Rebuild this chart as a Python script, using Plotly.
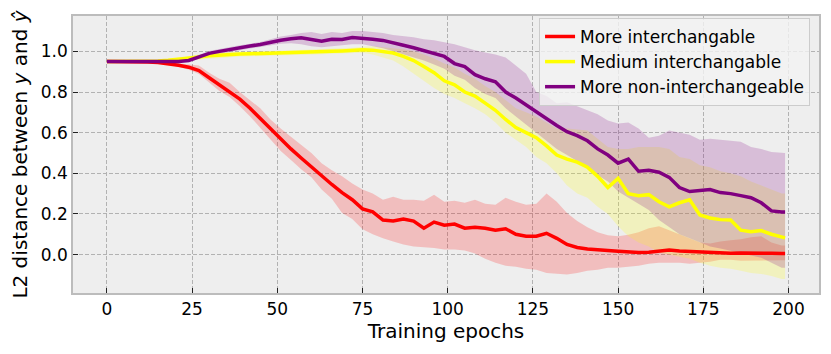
import plotly.graph_objects as go

# epochs sampled every 3 plus the last one
epochs = list(range(0, 200, 3)) + [199]

red_mean = [0.95, 0.95, 0.95, 0.95, 0.948, 0.945, 0.94, 0.932, 0.922, 0.905,
            0.87, 0.835, 0.805, 0.765, 0.72, 0.67, 0.615, 0.565, 0.52, 0.475,
            0.43, 0.39, 0.345, 0.305, 0.27, 0.225, 0.21, 0.17, 0.165, 0.175,
            0.165, 0.13, 0.16, 0.145, 0.15, 0.13, 0.135, 0.13, 0.12, 0.127,
            0.10, 0.09, 0.09, 0.105, 0.08, 0.05, 0.035, 0.027, 0.025, 0.02,
            0.016, 0.012, 0.01, 0.012, 0.018, 0.022, 0.018, 0.015, 0.012, 0.01,
            0.008, 0.006, 0.008, 0.006, 0.008, 0.006, 0.005, 0.005]
red_low = [0.947, 0.947, 0.947, 0.947, 0.944, 0.94, 0.934, 0.924, 0.91, 0.888,
           0.845, 0.805, 0.775, 0.73, 0.68, 0.625, 0.565, 0.51, 0.465, 0.42,
           0.38, 0.32, 0.275, 0.205, 0.175, 0.125, 0.10, 0.08, 0.065, 0.05,
           0.04, 0.038, 0.033, 0.025, 0.025, 0.02, 0.005, -0.02, -0.04, -0.055,
           -0.06, -0.07, -0.075, -0.09, -0.095, -0.098, -0.09, -0.08, -0.075, -0.065,
           -0.065, -0.06, -0.055, -0.045, -0.04, -0.04, -0.04, -0.045, -0.04, -0.035,
           -0.025, -0.025, -0.03, -0.03, -0.03, -0.03, -0.028, -0.028]
red_high = [0.953, 0.953, 0.953, 0.953, 0.952, 0.95, 0.946, 0.94, 0.934, 0.93,
            0.895, 0.865, 0.845, 0.80, 0.76, 0.72, 0.665, 0.62, 0.58, 0.54,
            0.50, 0.45, 0.415, 0.385, 0.35, 0.32, 0.30, 0.27, 0.285, 0.27,
            0.27, 0.265, 0.295, 0.26, 0.265, 0.255, 0.27, 0.25, 0.245, 0.28,
            0.26, 0.245, 0.25, 0.30, 0.26, 0.205, 0.165, 0.135, 0.11, 0.095,
            0.09, 0.098, 0.11, 0.13, 0.14, 0.12, 0.10, 0.08, 0.06, 0.055,
            0.065, 0.07, 0.075, 0.085, 0.09, 0.06, 0.045, 0.045]

yellow_mean = [0.95, 0.95, 0.95, 0.95, 0.951, 0.953, 0.956, 0.96, 0.965, 0.972,
               0.978, 0.982, 0.985, 0.987, 0.988, 0.989, 0.99, 0.991, 0.993, 0.995,
               0.997, 0.998, 1.0, 1.002, 1.006, 1.008, 1.006, 1.0, 0.992, 0.975,
               0.955, 0.925, 0.895, 0.855, 0.835, 0.80, 0.78, 0.745, 0.71, 0.665,
               0.625, 0.60, 0.575, 0.535, 0.49, 0.47, 0.455, 0.43, 0.385, 0.33,
               0.375, 0.30, 0.29, 0.295, 0.26, 0.235, 0.255, 0.27, 0.195, 0.18,
               0.172, 0.17, 0.12, 0.113, 0.118, 0.10, 0.085, 0.082]
yellow_low = [0.947, 0.947, 0.947, 0.947, 0.948, 0.948, 0.949, 0.951, 0.955, 0.96,
              0.966, 0.97, 0.973, 0.975, 0.976, 0.977, 0.978, 0.979, 0.981, 0.983,
              0.985, 0.986, 0.988, 0.99, 0.994, 0.993, 0.985, 0.97, 0.955, 0.925,
              0.89, 0.855, 0.82, 0.79, 0.77, 0.745, 0.72, 0.69, 0.65, 0.60,
              0.565, 0.53, 0.48, 0.45, 0.40, 0.34, 0.30, 0.28, 0.235, 0.20,
              0.14, 0.09, 0.06, 0.04, 0.01, 0.0, -0.01, -0.02, -0.04, -0.055,
              -0.065, -0.07, -0.08, -0.09, -0.095, -0.105, -0.12, -0.12]
yellow_high = [0.953, 0.953, 0.953, 0.953, 0.954, 0.958, 0.963, 0.969, 0.975, 0.984,
               0.99, 0.994, 0.997, 0.999, 1.0, 1.001, 1.002, 1.003, 1.005, 1.007,
               1.009, 1.01, 1.012, 1.014, 1.018, 1.023, 1.025, 1.02, 1.015, 1.01,
               1.0, 0.985, 0.965, 0.94, 0.92, 0.89, 0.865, 0.83, 0.80, 0.76,
               0.72, 0.70, 0.68, 0.65, 0.62, 0.62, 0.615, 0.61, 0.57, 0.53,
               0.52, 0.52, 0.53, 0.53, 0.53, 0.52, 0.48, 0.47, 0.44, 0.43,
               0.41, 0.40, 0.385, 0.36, 0.34, 0.32, 0.30, 0.30]

purple_mean = [0.95, 0.95, 0.95, 0.95, 0.95, 0.95, 0.95, 0.95, 0.955, 0.972,
               0.99, 1.0, 1.01, 1.018, 1.026, 1.034, 1.045, 1.055, 1.062, 1.067,
               1.058, 1.05, 1.06, 1.058, 1.068, 1.066, 1.06, 1.054, 1.04, 1.03,
               1.018, 1.005, 0.99, 0.975, 0.94, 0.925, 0.885, 0.865, 0.85, 0.80,
               0.77, 0.735, 0.70, 0.665, 0.635, 0.605, 0.585, 0.56, 0.52, 0.49,
               0.45, 0.47, 0.41, 0.415, 0.405, 0.38, 0.33, 0.31, 0.315, 0.32,
               0.305, 0.30, 0.29, 0.28, 0.255, 0.215, 0.21, 0.21]
purple_low = [0.947, 0.947, 0.947, 0.947, 0.947, 0.947, 0.947, 0.947, 0.949, 0.962,
              0.978, 0.988, 0.998, 1.006, 1.014, 1.022, 1.03, 1.037, 1.04, 1.035,
              1.025, 1.02, 1.025, 1.03, 1.035, 1.035, 1.025, 1.015, 1.0, 0.985,
              0.97, 0.955, 0.935, 0.915, 0.88, 0.86, 0.82, 0.79, 0.77, 0.72,
              0.68, 0.64, 0.60, 0.56, 0.52, 0.49, 0.46, 0.43, 0.39, 0.36,
              0.31, 0.28, 0.25, 0.22, 0.17, 0.135, 0.10, 0.08, 0.06, 0.04,
              0.03, 0.02, 0.008, -0.005, -0.015, -0.04, -0.065, -0.065]
purple_high = [0.953, 0.953, 0.953, 0.953, 0.953, 0.953, 0.953, 0.953, 0.961, 0.982,
               1.002, 1.012, 1.022, 1.03, 1.038, 1.046, 1.06, 1.073, 1.08, 1.09,
               1.095, 1.085, 1.095, 1.09, 1.10, 1.10, 1.095, 1.09, 1.08, 1.075,
               1.07, 1.06, 1.055, 1.045, 1.035, 1.02, 1.005, 0.995, 0.985, 0.97,
               0.93, 0.89, 0.80, 0.78, 0.745, 0.75, 0.73, 0.71, 0.69, 0.66,
               0.645, 0.65, 0.62, 0.575, 0.585, 0.61, 0.60, 0.59, 0.565, 0.57,
               0.565, 0.56, 0.555, 0.53, 0.52, 0.505, 0.50, 0.50]

series = [
    ("More interchangable", "#ff0000", "rgba(255,0,0,0.2)", red_mean, red_low, red_high),
    ("Medium interchangable", "#ffff00", "rgba(255,255,0,0.2)", yellow_mean, yellow_low, yellow_high),
    ("More non-interchangeable", "#800080", "rgba(128,0,128,0.2)", purple_mean, purple_low, purple_high),
]

fig = go.Figure()

# shaded bands first
for name, color, fill, mean, low, high in series:
    fig.add_trace(go.Scatter(x=epochs, y=low, mode="lines", line=dict(width=0),
                             showlegend=False, hoverinfo="skip"))
    fig.add_trace(go.Scatter(x=epochs, y=high, mode="lines", line=dict(width=0),
                             fill="tonexty", fillcolor=fill,
                             showlegend=False, hoverinfo="skip"))

# mean lines on top
for name, color, fill, mean, low, high in series:
    fig.add_trace(go.Scatter(x=epochs, y=mean, mode="lines", name=name,
                             line=dict(color=color, width=3.5)))

axis_style = dict(
    showgrid=True, gridcolor="#b2b2b2", griddash="4px,2px", gridwidth=0.8,
    showline=True, linecolor="#bcbcbc", linewidth=1.5, mirror=True,
    ticks="inside", ticklen=5, tickcolor="#222222", zeroline=False,
    tickfont=dict(size=17), automargin=False,
)

# page body has an 8px margin, so the figure is sized to fit inside it
fig.update_layout(
    width=815, height=338,
    margin=dict(l=65, r=4, t=7.5, b=52.5),
    plot_bgcolor="#eeeeee", paper_bgcolor="white",
    font=dict(family="DejaVu Sans", size=16, color="black"),
    xaxis=dict(range=[-9.95, 208.95], tickvals=[0, 25, 50, 75, 100, 125, 150, 175, 200],
               title=dict(text="Training epochs", font=dict(size=20), standoff=0),
               **axis_style),
    yaxis=dict(range=[-0.189, 1.174], tickvals=[0, 0.2, 0.4, 0.6, 0.8, 1.0], tickformat=".1f",
               title=dict(text="L2 distance between <i>y</i> and <i>ŷ</i>", font=dict(size=20), standoff=8),
               **axis_style),
    legend=dict(x=0.988, y=0.993, xanchor="right", yanchor="top", traceorder="normal",
                bgcolor="rgba(242,242,242,0.8)", bordercolor="#cccccc", borderwidth=1,
                font=dict(size=17)),
)

fig.write_html("out.html")
